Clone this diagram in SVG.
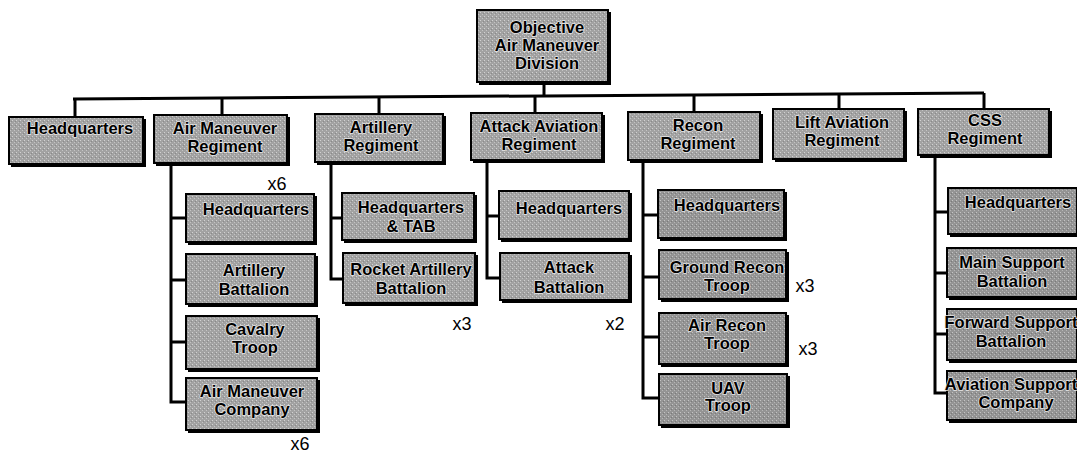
<svg xmlns="http://www.w3.org/2000/svg" width="1077" height="454" viewBox="0 0 1077 454">
<defs>
  <pattern id="speck" width="4" height="4" patternUnits="userSpaceOnUse">
    <rect width="4" height="4" fill="#a2a2a2"/>
    <rect x="0" y="0" width="1" height="1" fill="#d2d2d2"/>
    <rect x="2" y="2" width="1" height="1" fill="#c4c4c4"/>
    <rect x="3" y="1" width="1" height="1" fill="#8a8a8a"/>
  </pattern>
  <pattern id="speckd" width="4" height="4" patternUnits="userSpaceOnUse">
    <rect width="4" height="4" fill="#949494"/>
    <rect x="0" y="0" width="1" height="1" fill="#c4c4c4"/>
    <rect x="2" y="2" width="1" height="1" fill="#b6b6b6"/>
    <rect x="3" y="1" width="1" height="1" fill="#7a7a7a"/>
  </pattern>
</defs>
<style>
  .sh { fill: #000; }
  .bx { fill: url(#speck); stroke: #000; stroke-width: 2; }
  .bxd { fill: url(#speckd); stroke: #000; stroke-width: 2; }
  .t { font-family: "Liberation Sans", Arial, sans-serif; font-weight: bold; font-size: 16.5px; fill: #000; text-anchor: middle; stroke: #e6e6e6; stroke-width: 1.6; stroke-linejoin: round; paint-order: stroke; }
  .m { font-family: "Liberation Sans", Arial, sans-serif; font-size: 18px; fill: #000; text-anchor: middle; }
  .c { stroke: #000; stroke-width: 3; fill: none; }
</style>
<rect width="1077" height="454" fill="#fff"/>

<g id="connectors">
  <line class="c" x1="544" y1="85" x2="544" y2="96"/>
  <line class="c" x1="73" y1="99" x2="984" y2="93" stroke-width="3.5"/>
  <line class="c" x1="75" y1="99" x2="75" y2="117"/>
  <line class="c" x1="222" y1="98" x2="222" y2="115"/>
  <line class="c" x1="379" y1="97" x2="379" y2="114"/>
  <line class="c" x1="535" y1="96" x2="535" y2="113"/>
  <line class="c" x1="694" y1="95" x2="694" y2="112"/>
  <line class="c" x1="839" y1="94" x2="839" y2="109"/>
  <line class="c" x1="984" y1="93" x2="984" y2="109"/>
  <polyline class="c" points="171,166 171,402 186,402"/>
  <line class="c" x1="171" y1="218" x2="186" y2="218"/>
  <line class="c" x1="171" y1="280" x2="186" y2="280"/>
  <line class="c" x1="171" y1="342" x2="186" y2="342"/>
  <polyline class="c" points="331,165 331,279 343,279"/>
  <line class="c" x1="331" y1="218" x2="342" y2="218"/>
  <polyline class="c" points="487,163 487,278 500,278"/>
  <line class="c" x1="487" y1="216" x2="499" y2="216"/>
  <polyline class="c" points="643,163 643,398 659,398"/>
  <line class="c" x1="643" y1="215" x2="658" y2="215"/>
  <line class="c" x1="643" y1="277" x2="659" y2="277"/>
  <line class="c" x1="643" y1="337" x2="659" y2="337"/>
  <polyline class="c" points="935,158 935,393 947,393"/>
  <line class="c" x1="935" y1="212" x2="948" y2="212"/>
  <line class="c" x1="935" y1="273" x2="947" y2="273"/>
  <line class="c" x1="935" y1="334" x2="947" y2="334"/>
</g>

<g id="objective">
  <rect class="sh" x="479" y="12" width="132" height="73"/>
  <rect class="bx" x="477" y="10" width="131" height="72"/>
  <text class="t" x="547" y="33">Objective</text>
  <text class="t" x="547" y="51">Air Maneuver</text>
  <text class="t" x="547" y="69">Division</text>
</g>

<g id="headquarters">
  <rect class="sh" x="11" y="119" width="135" height="48"/>
  <rect class="bx" x="9" y="117" width="134" height="47"/>
  <text class="t" x="80" y="134">Headquarters</text>
</g>
<g id="air-maneuver-regiment">
  <rect class="sh" x="156" y="117" width="134" height="49"/>
  <rect class="bx" x="154" y="115" width="133" height="48"/>
  <text class="t" x="225" y="134">Air Maneuver</text>
  <text class="t" x="225" y="152">Regiment</text>
</g>
<g id="artillery-regiment">
  <rect class="sh" x="317" y="116" width="129" height="49"/>
  <rect class="bx" x="315" y="114" width="128" height="48"/>
  <text class="t" x="381" y="133">Artillery</text>
  <text class="t" x="381" y="151">Regiment</text>
</g>
<g id="attack-aviation-regiment">
  <rect class="sh" x="473" y="115" width="132" height="48"/>
  <rect class="bx" x="471" y="113" width="131" height="47"/>
  <text class="t" x="539" y="132">Attack Aviation</text>
  <text class="t" x="539" y="150">Regiment</text>
</g>
<g id="recon-regiment">
  <rect class="sh" x="630" y="114" width="133" height="49"/>
  <rect class="bx" x="628" y="112" width="132" height="48"/>
  <text class="t" x="698" y="131">Recon</text>
  <text class="t" x="698" y="149">Regiment</text>
</g>
<g id="lift-aviation-regiment">
  <rect class="sh" x="775" y="111" width="132" height="51"/>
  <rect class="bx" x="773" y="109" width="131" height="50"/>
  <text class="t" x="842" y="128">Lift Aviation</text>
  <text class="t" x="842" y="146">Regiment</text>
</g>
<g id="css-regiment">
  <rect class="sh" x="920" y="111" width="132" height="47"/>
  <rect class="bx" x="918" y="109" width="131" height="46"/>
  <text class="t" x="985" y="126">CSS</text>
  <text class="t" x="985" y="144">Regiment</text>
</g>

<g id="am-headquarters">
  <rect class="sh" x="188" y="196" width="129" height="49"/>
  <rect class="bx" x="186" y="194" width="128" height="48"/>
  <text class="t" x="256" y="215">Headquarters</text>
</g>
<g id="am-artillery-battalion">
  <rect class="sh" x="188" y="256" width="130" height="51"/>
  <rect class="bx" x="186" y="254" width="129" height="50"/>
  <text class="t" x="254" y="276">Artillery</text>
  <text class="t" x="254" y="295">Battalion</text>
</g>
<g id="am-cavalry-troop">
  <rect class="sh" x="188" y="318" width="132" height="54"/>
  <rect class="bx" x="186" y="316" width="131" height="53"/>
  <text class="t" x="255" y="335">Cavalry</text>
  <text class="t" x="255" y="353">Troop</text>
</g>
<g id="am-air-maneuver-company">
  <rect class="sh" x="188" y="380" width="132" height="53"/>
  <rect class="bx" x="186" y="378" width="131" height="52"/>
  <text class="t" x="252" y="397">Air Maneuver</text>
  <text class="t" x="252" y="415">Company</text>
</g>

<g id="art-headquarters-tab">
  <rect class="sh" x="344" y="195" width="133" height="48"/>
  <rect class="bx" x="342" y="193" width="132" height="47"/>
  <text class="t" x="411" y="213">Headquarters</text>
  <text class="t" x="411" y="232">&amp; TAB</text>
</g>
<g id="art-rocket-artillery-battalion">
  <rect class="sh" x="345" y="255" width="133" height="51"/>
  <rect class="bx" x="343" y="253" width="132" height="50"/>
  <text class="t" x="411" y="275">Rocket Artillery</text>
  <text class="t" x="411" y="294">Battalion</text>
</g>

<g id="att-headquarters">
  <rect class="sh" x="501" y="193" width="131" height="49"/>
  <rect class="bx" x="499" y="191" width="130" height="48"/>
  <text class="t" x="569" y="214">Headquarters</text>
</g>
<g id="att-attack-battalion">
  <rect class="sh" x="502" y="255" width="130" height="48"/>
  <rect class="bx" x="500" y="253" width="129" height="47"/>
  <text class="t" x="569" y="273">Attack</text>
  <text class="t" x="569" y="293">Battalion</text>
</g>

<g id="rec-headquarters">
  <rect class="sh" x="660" y="192" width="127" height="49"/>
  <rect class="bxd" x="658" y="190" width="126" height="48"/>
  <text class="t" x="727" y="211">Headquarters</text>
</g>
<g id="rec-ground-recon-troop">
  <rect class="sh" x="661" y="252" width="128" height="50"/>
  <rect class="bxd" x="659" y="250" width="127" height="49"/>
  <text class="t" x="727" y="273">Ground Recon</text>
  <text class="t" x="727" y="291">Troop</text>
</g>
<g id="rec-air-recon-troop">
  <rect class="sh" x="661" y="315" width="128" height="52"/>
  <rect class="bxd" x="659" y="313" width="127" height="51"/>
  <text class="t" x="727" y="331">Air Recon</text>
  <text class="t" x="727" y="349">Troop</text>
</g>
<g id="rec-uav-troop">
  <rect class="sh" x="661" y="376" width="129" height="52"/>
  <rect class="bxd" x="659" y="374" width="128" height="51"/>
  <text class="t" x="728" y="394">UAV</text>
  <text class="t" x="728" y="411">Troop</text>
</g>

<g id="css-headquarters">
  <rect class="sh" x="950" y="190" width="130" height="47"/>
  <rect class="bxd" x="948" y="188" width="129" height="46"/>
  <text class="t" x="1018" y="208">Headquarters</text>
</g>
<g id="css-main-support-battalion">
  <rect class="sh" x="949" y="250" width="131" height="50"/>
  <rect class="bxd" x="947" y="248" width="130" height="49"/>
  <text class="t" x="1012" y="268">Main Support</text>
  <text class="t" x="1012" y="287">Battalion</text>
</g>
<g id="css-forward-support-battalion">
  <rect class="sh" x="949" y="311" width="131" height="52"/>
  <rect class="bxd" x="947" y="309" width="130" height="51"/>
  <text class="t" x="1011" y="328">Forward Support</text>
  <text class="t" x="1011" y="347">Battalion</text>
</g>
<g id="css-aviation-support-company">
  <rect class="sh" x="949" y="373" width="131" height="50"/>
  <rect class="bxd" x="947" y="371" width="130" height="49"/>
  <text class="t" x="1011" y="390">Aviation Support</text>
  <text class="t" x="1016" y="408">Company</text>
</g>

<g id="multipliers">
  <text class="m" x="277" y="190">x6</text>
  <text class="m" x="300" y="450">x6</text>
  <text class="m" x="462" y="330">x3</text>
  <text class="m" x="615" y="330">x2</text>
  <text class="m" x="805" y="292">x3</text>
  <text class="m" x="808" y="355">x3</text>
</g>
</svg>
